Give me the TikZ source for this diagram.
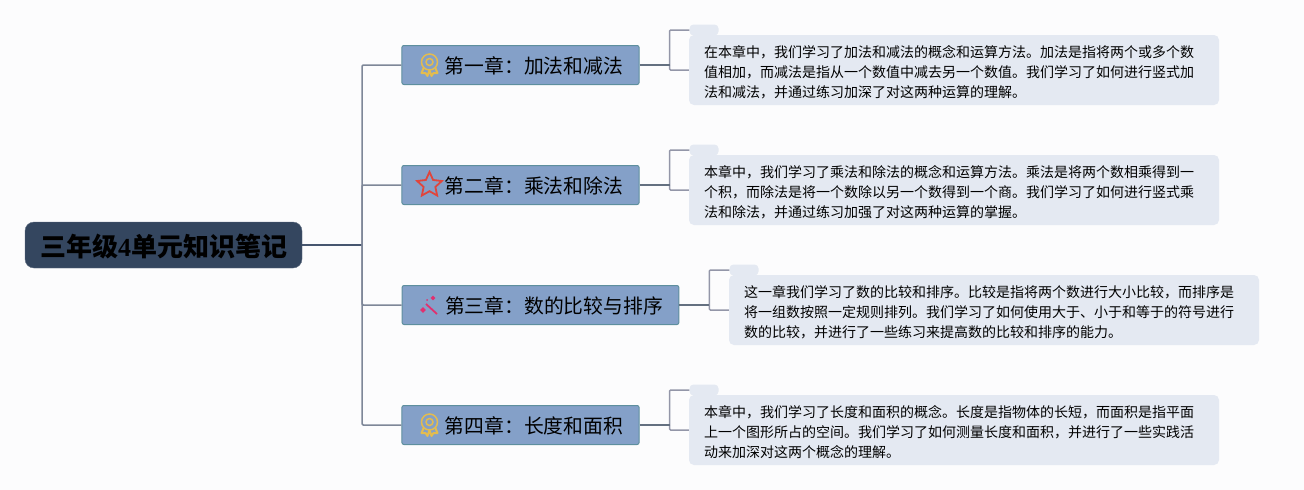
\documentclass[tikz,border=0pt]{standalone}
\usepackage{fontspec}
\setmainfont{Noto Sans CJK SC}
\newfontfamily\digitfont{Liberation Serif}
\usetikzlibrary{shapes.geometric}

\definecolor{pageBg}{HTML}{FCFCFD}
\definecolor{rootFill}{HTML}{34465F}
\definecolor{chapterFill}{HTML}{84A0C8}
\definecolor{chapterEdge}{HTML}{5E8F9E}
\definecolor{noteFill}{HTML}{E4E9F2}
\definecolor{trunkLine}{HTML}{7E8798}
\definecolor{rootLine}{HTML}{46566F}
\definecolor{stubLine}{HTML}{647080}
\definecolor{bracketLine}{HTML}{9396A8}
\definecolor{medalGold}{HTML}{E3BC4F}
\definecolor{starRed}{HTML}{E0453C}
\definecolor{wandPink}{HTML}{E0306F}

\tikzstyle{rootNode}=[fill=rootFill,draw=rootFill!80!white,rounded corners=9pt,minimum width=277pt,minimum height=46pt,inner sep=0pt,text height=22pt,text depth=0pt,font=\fontsize{26}{30}\selectfont\bfseries]
\tikzstyle{chapterNode}=[fill=chapterFill,draw=chapterEdge,line width=1pt,rounded corners=2pt,minimum height=39pt,inner xsep=16pt,inner ysep=0pt,text height=17pt,text depth=0pt,font=\fontsize{19.8}{24}\selectfont]
\tikzstyle{noteNode}=[fill=noteFill,rounded corners=5pt,minimum width=530pt,minimum height=70pt,text width=500pt,align=left,inner xsep=15pt,inner ysep=0pt,font=\fontsize{14}{20}\selectfont]
\tikzstyle{noteTab}=[fill=noteFill,rounded corners=4pt,minimum width=29pt,minimum height=11pt,inner sep=0pt]
\tikzstyle{trunkLink}=[trunkLine,line width=1.5pt]
\tikzstyle{rootLink}=[rootLine,line width=1.8pt]
\tikzstyle{stubLink}=[stubLine,line width=1.8pt]
\tikzstyle{bracketLink}=[bracketLine,line width=1.5pt]
\tikzstyle{medalPart}=[draw=medalGold,line width=1.5pt,circle,inner sep=0pt]

% tall first line, pushes the note text down a little
\newcommand{\noteStart}{\rule{0pt}{16pt}}

% rosette icon, drawn around its centre
\newcommand{\medalIcon}[2]{
	\draw[medalGold,line width=2pt,line join=round] ([shift={(-5,4)}]#2) -- ([shift={(-8,11)}]#2) -- ([shift={(-4,11)}]#2) -- ([shift={(-2,14)}]#2) -- ([shift={(0,8)}]#2) -- ([shift={(2,14)}]#2) -- ([shift={(4,11)}]#2) -- ([shift={(8,11)}]#2) -- ([shift={(5,4)}]#2);
	\node[medalPart,fill=chapterFill,minimum size=16pt] (#1out) at (#2) {};
	\node[medalPart,minimum size=7pt] (#1in) at (#2) {};
}

\begin{document}
\begin{tikzpicture}[x=1pt,y=-1pt]
	\fill[pageBg] (0,0) rectangle (1304,490);
	\useasboundingbox (0,0) rectangle (1304,490);

	\node[rootNode] (root) at (163.5,245) {三年级{\digitfont 4}单元知识笔记};

	\node[chapterNode] (ch1) at (520.5,65) {\hspace*{27pt}第一章：加法和减法};
	\node[chapterNode] (ch2) at (520.5,185) {\hspace*{27pt}第二章：乘法和除法};
	\node[chapterNode] (ch3) at (540.5,305) {\hspace*{27pt}第三章：数的比较与排序};
	\node[chapterNode] (ch4) at (520.5,425) {\hspace*{27pt}第四章：长度和面积};

	\node[noteTab] (tab1) at (704,30) {};
	\node[noteTab] (tab2) at (704,150) {};
	\node[noteTab] (tab3) at (744,270) {};
	\node[noteTab] (tab4) at (704,390) {};

	\node[noteNode] (note1) at (954,70) {\noteStart 在本章中，我们学习了加法和减法的概念和运算方法。加法是指将两个或多个数\\值相加，而减法是指从一个数值中减去另一个数值。我们学习了如何进行竖式加\\法和减法，并通过练习加深了对这两种运算的理解。};
	\node[noteNode] (note2) at (954,190) {\noteStart 本章中，我们学习了乘法和除法的概念和运算方法。乘法是将两个数相乘得到一\\个积，而除法是将一个数除以另一个数得到一个商。我们学习了如何进行竖式乘\\法和除法，并通过练习加强了对这两种运算的掌握。};
	\node[noteNode] (note3) at (994,310) {\noteStart 这一章我们学习了数的比较和排序。比较是指将两个数进行大小比较，而排序是\\将一组数按照一定规则排列。我们学习了如何使用大于、小于和等于的符号进行\\数的比较，并进行了一些练习来提高数的比较和排序的能力。};
	\node[noteNode] (note4) at (954,430) {\noteStart 本章中，我们学习了长度和面积的概念。长度是指物体的长短，而面积是指平面\\上一个图形所占的空间。我们学习了如何测量长度和面积，并进行了一些实践活\\动来加深对这两个概念的理解。};

	\draw[rootLink] (root.east) -- ++(60,0) coordinate (hub);
	\foreach \n in {1,2,3,4} {
		\draw[trunkLink,rounded corners=1pt] (hub) |- (ch\n.west);
		\draw[bracketLink,rounded corners=1pt] (ch\n.east) ++(30,0) coordinate (fork\n) |- (tab\n.west);
		\draw[bracketLink,rounded corners=1pt] (fork\n) |- (note\n.west);
		\draw[stubLink] (ch\n.east) -- (fork\n);
	}

	% icons
	\medalIcon{medalA}{429.5,62}
	\medalIcon{medalB}{429.5,422}
	\node[star,star points=5,star point ratio=2.1,draw=starRed,line width=1.8pt,minimum size=26pt,inner sep=0pt] (starIcon) at (429.5,185) {};
	\coordinate (wandTip) at (426,304);
	\coordinate (wandEnd) at (437,314);
	\draw[wandPink,line width=1.8pt] (wandTip) -- (wandEnd);
	\node[diamond,fill=wandPink,minimum size=6pt,inner sep=0pt] (sparkA) at (423,310) {};
	\node[diamond,fill=wandPink,minimum size=5pt,inner sep=0pt] (sparkB) at (433,298) {};
	\node[circle,fill=wandPink,minimum size=2pt,inner sep=0pt] (sparkC) at (427,300) {};
\end{tikzpicture}
\end{document}
